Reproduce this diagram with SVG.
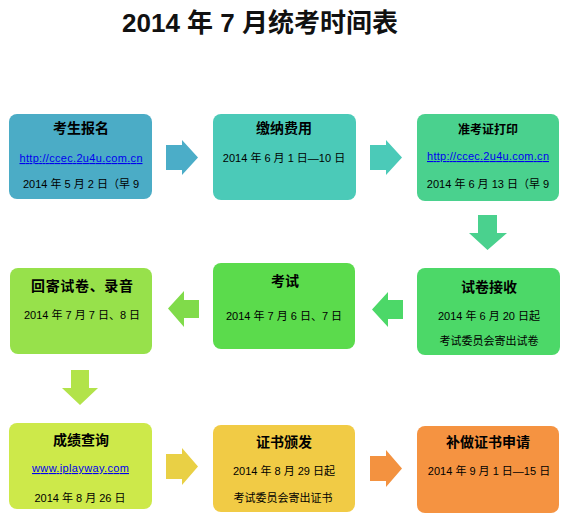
<svg xmlns="http://www.w3.org/2000/svg" width="569" height="524" viewBox="0 0 569 524">
<style>
.title{font-family:"Liberation Sans","Noto Sans CJK SC",sans-serif;font-weight:bold;font-size:26px;fill:#111;text-anchor:middle}
.h{font-family:"Noto Sans CJK SC","Liberation Sans",sans-serif;font-weight:bold;font-size:14px;fill:#000;text-anchor:middle}
.t{font-family:"Liberation Sans","Noto Sans CJK SC",sans-serif;font-size:11px;fill:#000;text-anchor:middle}
.l{font-family:"Liberation Sans","Noto Sans CJK SC",sans-serif;font-size:11px;fill:#0000ee;text-decoration:underline;text-anchor:middle}
</style>
<rect width="569" height="524" fill="#fff"/>
<text class="title" x="260" y="32">2014 年 7 月统考时间表</text>
<g id="connectors">
<polygon points="166,145 182,145 182,140 198,157.5 182,175 182,170 166,170" fill="#4BADC8"/>
<polygon points="370,145 386,145 386,140 402,157.5 386,175 386,170 370,170" fill="#4BCAB8"/>
<polygon points="478,215 497,215 497,233 507,233 487.5,250 469,233 478,233" fill="#4AD18E"/>
<polygon points="403,300 388,300 388,292 372,309.5 388,327 388,319 403,319" fill="#4CD868"/>
<polygon points="199,300 184,300 184,291 168,308.5 184,327 184,318 199,318" fill="#80DB4A"/>
<polygon points="71,370 89,370 89,388 98,388 80,405 62,388 71,388" fill="#B2E34A"/>
<polygon points="166,454 182,454 182,448 198,466.5 182,485 182,479 166,479" fill="#E9D045"/>
<polygon points="370,456 386,456 386,450 402,468.5 386,487 386,481 370,481" fill="#F39240"/>
</g>
<g id="n1">
<rect x="9" y="114" width="143" height="85" rx="8" fill="#4BACC6"/>
<text class="h" x="81" y="133">考生报名</text>
<text class="l" x="81" y="162" textLength="123">http://ccec.2u4u.com.cn</text>
<text class="t" x="81" y="188">2014 年 5 月 2 日（早 9</text>
</g>
<g id="n2">
<rect x="213" y="114" width="143" height="86" rx="8" fill="#4BCAB8"/>
<text class="h" x="284" y="133">缴纳费用</text>
<text class="t" x="284" y="162">2014 年 6 月 1 日—10 日</text>
</g>
<g id="n3">
<rect x="417" y="114" width="142" height="87" rx="8" fill="#4AD18E"/>
<text class="h" x="488" y="134" style="font-size:12px">准考证打印</text>
<text class="l" x="488" y="160" textLength="122">http://ccec.2u4u.com.cn</text>
<text class="t" x="488" y="188">2014 年 6 月 13 日（早 9</text>
</g>
<g id="n4">
<rect x="417" y="268" width="143" height="87" rx="8" fill="#4CD868"/>
<text class="h" x="489" y="292">试卷接收</text>
<text class="t" x="489" y="320">2014 年 6 月 20 日起</text>
<text class="t" x="489" y="345">考试委员会寄出试卷</text>
</g>
<g id="n5">
<rect x="213" y="263" width="142" height="86" rx="8" fill="#5BDB4C"/>
<text class="h" x="285" y="286">考试</text>
<text class="t" x="284" y="320">2014 年 7 月 6 日、7 日</text>
</g>
<g id="n6">
<rect x="10" y="268" width="142" height="86" rx="8" fill="#97E14B"/>
<text class="h" x="82" y="291" textLength="102">回寄试卷、录音</text>
<text class="t" x="82" y="319">2014 年 7 月 7 日、8 日</text>
</g>
<g id="n7">
<rect x="9" y="423" width="143" height="86" rx="8" fill="#CDE94A"/>
<text class="h" x="81" y="445">成绩查询</text>
<text class="l" x="80.5" y="472" textLength="97">www.iplayway.com</text>
<text class="t" x="80" y="502">2014 年 8 月 26 日</text>
</g>
<g id="n8">
<rect x="213" y="425" width="142" height="87" rx="8" fill="#F1CB45"/>
<text class="h" x="284" y="447">证书颁发</text>
<text class="t" x="284" y="475">2014 年 8 月 29 日起</text>
<text class="t" x="283" y="502">考试委员会寄出证书</text>
</g>
<g id="n9">
<rect x="417" y="426" width="142" height="87" rx="8" fill="#F59341"/>
<text class="h" x="488" y="447">补做证书申请</text>
<text class="t" x="489" y="475">2014 年 9 月 1 日—15 日</text>
</g>
</svg>
